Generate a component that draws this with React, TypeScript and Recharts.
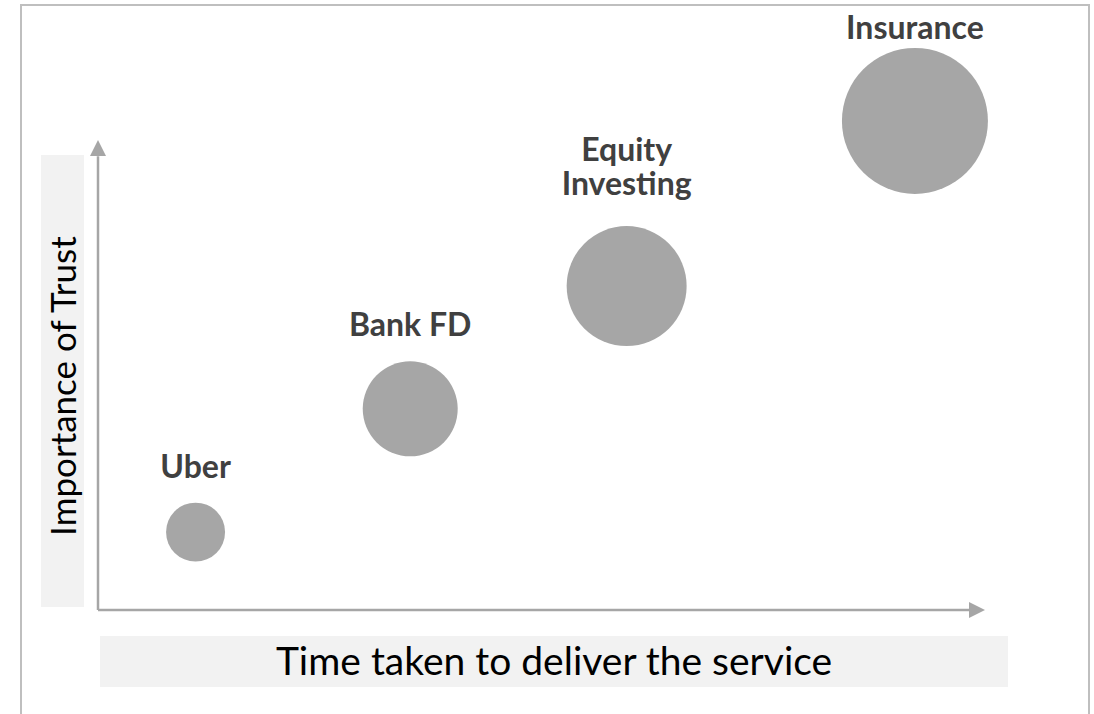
import React from 'react';
import {
  ScatterChart, Scatter, XAxis, YAxis, ZAxis, ReferenceLine, ReferenceDot,
  ReferenceArea, LabelList,
} from 'recharts';

const names = ['Uber', 'Bank FD', 'Equity Investing', 'Insurance'];
const timeTaken = [11.0, 35.2, 59.6, 92.1];
const trust = [13.2, 34.1, 54.9, 82.9];
const bubbleSize = [870, 2256, 3600, 5330];

const xTitle = 'Time taken to deliver the service';
const yTitle = 'Importance of Trust';

const AXIS = '#a6a6a6';
const BUBBLE = '#a6a6a6';
const LABEL = '#404040';
const BOX = '#f2f2f2';
const FONT = 'Lato, "Open Sans", sans-serif';

// gap between label baseline and bubble top (Insurance squeezed by the frame)
const labelGap: Record<string, number> = { Insurance: 9, 'Equity Investing': 31 };

const points = names.map((n, i) => ({
  name: n,
  x: timeTaken[i],
  y: trust[i],
  z: bubbleSize[i],
}));

const BubbleLabel = (props: any) => {
  const { x, y, width, value } = props;
  const vb = props.viewBox || {};
  const left = x ?? vb.x;
  const top = y ?? vb.y;
  const w = width ?? vb.width ?? 0;
  const cx = left + w / 2;
  const gap = labelGap[value] ?? 25;
  const text = String(value);
  const lines = text.length > 10 ? text.split(' ') : [text];
  const lh = 34;
  return (
    <g>
      {lines.map((ln, i) => (
        <text
          key={ln}
          x={cx}
          y={top - gap - (lines.length - 1 - i) * lh}
          textAnchor="middle"
          fill={LABEL}
          fontFamily={FONT}
          fontWeight={700}
          fontSize={32}
        >
          {ln}
        </text>
      ))}
    </g>
  );
};

// vertical title, nudged a little below the box centre like the original
const YTitle = ({ viewBox }: any) => {
  const cx = viewBox.x + viewBox.width / 2;
  const cy = viewBox.y + viewBox.height / 2 + 5;
  return (
    <text x={cx} y={cy} transform={`rotate(-90, ${cx}, ${cy})`} textAnchor="middle"
      dominantBaseline="central" fill="#000" fontSize={35} fontFamily={FONT}>
      {yTitle}
    </text>
  );
};

const ArrowUp = ({ cx, cy }: any) => (
  <polygon points={`${cx},${cy} ${cx - 8},${cy + 16} ${cx + 8},${cy + 16}`} fill={AXIS} />
);
const ArrowRight = ({ cx, cy }: any) => (
  <polygon points={`${cx},${cy} ${cx - 16},${cy - 8} ${cx - 16},${cy + 8}`} fill={AXIS} />
);

export default function App() {
  return (
    <div style={{ position: 'absolute', left: 0, top: 0, width: 1094, height: 714, background: '#fff', overflow: 'hidden' }}>
      <div style={{
        position: 'absolute', left: 20, top: 4, width: 1066, height: 730,
        border: '2px solid #bfbfbf', borderBottom: 'none',
      }} />
      <ScatterChart
        width={1094}
        height={714}
        margin={{ top: 20, right: 109, bottom: 104, left: 98 }}
        style={{ position: 'absolute', left: 0, top: 0 }}
      >
        <XAxis type="number" dataKey="x" domain={[0, 100]} hide />
        <YAxis type="number" dataKey="y" domain={[0, 100]} hide />
        <ZAxis type="number" dataKey="z" domain={[0, 5330]} range={[0, 16740]} />

        <ReferenceArea x1={-6.43} x2={-1.58} y1={0.5} y2={77.1} fill={BOX} fillOpacity={1}
          stroke="none" ifOverflow="visible" label={<YTitle />} />
        <ReferenceArea x1={0.23} x2={102.6} y1={-13.05} y2={-4.4} fill={BOX} fillOpacity={1}
          stroke="none" ifOverflow="visible"
          label={{ value: xTitle, position: 'center', fill: '#000', fontSize: 39, fontFamily: FONT }} />

        <ReferenceLine segment={[{ x: 0, y: 0 }, { x: 0, y: 76.9 }]} stroke={AXIS} strokeWidth={2.5} ifOverflow="visible" />
        <ReferenceLine segment={[{ x: 0, y: 0 }, { x: 98.2, y: 0 }]} stroke={AXIS} strokeWidth={2.5} ifOverflow="visible" />
        <ReferenceDot x={0} y={79.66} ifOverflow="visible" shape={<ArrowUp />} />
        <ReferenceDot x={100} y={0} ifOverflow="visible" shape={<ArrowRight />} />

        <Scatter data={points} fill={BUBBLE} isAnimationActive={false}>
          <LabelList dataKey="name" content={<BubbleLabel />} />
        </Scatter>
      </ScatterChart>
    </div>
  );
}
